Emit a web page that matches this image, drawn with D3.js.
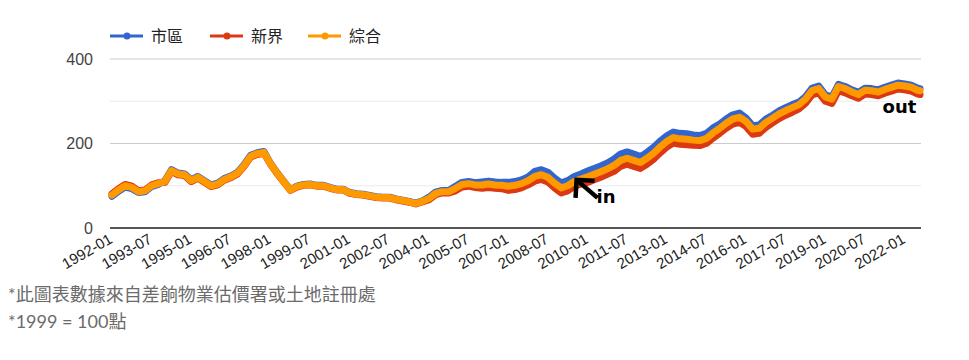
<!DOCTYPE html>
<html>
<head>
<meta charset="utf-8">
<script src="https://cdn.jsdelivr.net/npm/d3@7"></script>
<style>
  body { margin: 0; background: #fff; }
  svg { display: block; }
</style>
</head>
<body>
<svg id="chart" width="969" height="360"></svg>
<script>
// ---- data (1999 = 100) ----
const dates = [
  "1992-01","1992-04","1992-07","1992-10","1993-01","1993-04","1993-07","1993-10",
  "1994-01","1994-04","1994-07","1994-10","1995-01","1995-04","1995-07","1995-10",
  "1996-01","1996-04","1996-07","1996-10","1997-01","1997-04","1997-07","1997-10",
  "1998-01","1998-04","1998-07","1998-10","1999-01","1999-04","1999-07","1999-10",
  "2000-01","2000-04","2000-07","2000-10","2001-01","2001-04","2001-07","2001-10",
  "2002-01","2002-04","2002-07","2002-10","2003-01","2003-04","2003-07","2003-10",
  "2004-01","2004-04","2004-07","2004-10","2005-01","2005-04","2005-07","2005-10",
  "2006-01","2006-04","2006-07","2006-10","2007-01","2007-04","2007-07","2007-10",
  "2008-01","2008-04","2008-07","2008-10","2009-01","2009-04","2009-07","2009-10",
  "2010-01","2010-04","2010-07","2010-10","2011-01","2011-04","2011-07","2011-10",
  "2012-01","2012-04","2012-07","2012-10","2013-01","2013-04","2013-07","2013-10",
  "2014-01","2014-04","2014-07","2014-10","2015-01","2015-04","2015-07","2015-10",
  "2016-01","2016-04","2016-07","2016-10","2017-01","2017-04","2017-07","2017-10",
  "2018-01","2018-04","2018-07","2018-10","2019-01","2019-04","2019-07","2019-10",
  "2020-01","2020-04","2020-07","2020-10","2021-01","2021-04","2021-07","2021-10",
  "2022-01","2022-04","2022-07","2022-08"
];
const urban = [ // 市區
  75,87,97,93, 84,86,98,103, 112,138,130,128, 114,122,112,102,
  106,117,123,132, 150,172,178,181, 153,131,111,91, 99,103,104,101,
  101,96,92,92, 84,81,80,77, 74,73,73,69, 66,63,59,64,
  73,85,89,89, 99,108,110,107, 109,111,109,108, 108,110,114,121,
  134,138,132,118, 107,112,122,128, 135,141,147,154, 163,175,180,175,
  169,179,191,206, 218,227,224,223, 220,219,224,237, 246,258,268,272,
  260,242,244,258, 267,277,285,292, 298,311,331,336, 315,310,340,335,
  327,321,331,330, 327,333,338,343, 341,338,331,330
];
const newTerritories = [ // 新界
  81,93,103,99, 88,90,102,107, 108,134,126,124, 110,118,108,98,
  102,113,119,128, 146,168,174,177, 151,129,109,89, 97,101,102,99,
  99,94,90,90, 82,79,78,75, 72,71,71,67, 64,61,57,62,
  67,79,83,83, 88,97,99,96, 94,96,94,93, 89,91,95,102,
  111,115,109,95, 83,88,98,104, 108,114,120,127, 134,146,151,146,
  141,151,163,178, 192,201,198,197, 196,195,200,213, 224,236,246,250,
  240,222,224,238, 249,259,267,274, 282,295,315,320, 300,295,325,320,
  313,307,317,316, 313,319,324,329, 327,324,317,316
];
const overall = [ // 綜合
  78,90,100,96, 86,88,100,105, 110,136,128,126, 112,120,110,100,
  104,115,121,130, 148,170,176,179, 152,130,110,90, 98,102,103,100,
  100,95,91,91, 83,80,79,76, 73,72,72,68, 65,62,58,63,
  70,82,86,86, 94,103,105,102, 102,104,102,101, 99,101,105,112,
  122,126,120,106, 95,100,110,116, 121,127,133,140, 148,160,165,160,
  155,165,177,192, 205,214,211,210, 208,207,212,225, 236,248,258,262,
  252,234,236,250, 260,270,278,285, 292,305,325,330, 310,305,335,330,
  322,316,326,325, 322,328,333,338, 336,333,326,325
];
const seriesNames = ["市區", "新界", "綜合"];
const seriesColors = ["#3366cc", "#dc3912", "#ff9900"];
const xTickLabels = ["1992-01","1993-07","1995-01","1996-07","1998-01","1999-07","2001-01",
  "2002-07","2004-01","2005-07","2007-01","2008-07","2010-01","2011-07","2013-01","2014-07",
  "2016-01","2017-07","2019-01","2020-07","2022-01"];
const yTickLabels = [0, 200, 400];
const gridValues = [100, 200, 300, 400];
const footnotes = ["*此圖表數據來自差餉物業估價署或土地註冊處", "*1999 = 100點"];
const annotations = [
  { text: "in",  date: "2009-08", value: 114, arrow: true },
  { text: "out", date: "2021-03", value: 272, arrow: false }
];

// ---- drawing ----
const svg = d3.select("#chart");
const parse = d3.timeParse("%Y-%m");
const fmt = d3.timeFormat("%Y-%m");
const parsed = dates.map(parse);

const x = d3.scaleTime().domain([parsed[0], parsed[parsed.length - 1]]).range([112, 920]);
const y = d3.scaleLinear().domain([0, 400]).range([228, 59]);
const plotLeft = 110, plotRight = 921;

svg.append("rect").attr("width", 969).attr("height", 360).attr("fill", "#fff");

// gridlines
svg.append("g").selectAll("line").data(gridValues).join("line")
  .attr("x1", plotLeft).attr("x2", plotRight)
  .attr("y1", d => y(d)).attr("y2", d => y(d))
  .attr("stroke", d => d % 200 === 0 ? "#cccccc" : "#ebebeb")
  .attr("stroke-width", 1);

// y axis labels
const yAxis = d3.axisLeft(y).tickValues(yTickLabels).tickSize(0).tickPadding(17);
const gy = svg.append("g").attr("transform", `translate(${plotLeft},0)`).call(yAxis);
gy.select(".domain").remove();
gy.selectAll("text").attr("font-family", "Arial, 'Liberation Sans', sans-serif")
  .attr("font-size", 16).attr("fill", "#444");

// lines
const seriesData = [urban, newTerritories, overall];
const line = d3.line().x((d, i) => x(parsed[i])).y(d => y(d));
svg.append("g").selectAll("path").data(seriesData).join("path")
  .attr("d", d => line(d))
  .attr("fill", "none")
  .attr("stroke", (d, i) => seriesColors[i])
  .attr("stroke-width", 7)
  .attr("stroke-linejoin", "round")
  .attr("stroke-linecap", "round");

// baseline
svg.append("line").attr("x1", plotLeft).attr("x2", plotRight)
  .attr("y1", y(0)).attr("y2", y(0)).attr("stroke", "#555").attr("stroke-width", 2);

// x axis
const xAxis = d3.axisBottom(x).tickValues(xTickLabels.map(parse)).tickFormat(fmt).tickSize(0);
const gx = svg.append("g").attr("transform", `translate(0,${y(0)})`).call(xAxis);
gx.select(".domain").remove();
gx.selectAll("text")
  .attr("font-family", "Arial, 'Liberation Sans', sans-serif")
  .attr("font-size", 15).attr("fill", "#222")
  .attr("text-anchor", "end")
  .attr("dy", null).attr("y", null)
  .attr("transform", "translate(1,14) rotate(-30)");

// legend
const legend = svg.append("g").attr("transform", "translate(110,36)");
const lgX = [0, 100, 198];
seriesNames.forEach((name, i) => {
  const g = legend.append("g").attr("transform", `translate(${lgX[i]},0)`);
  g.append("line").attr("x1", 0).attr("x2", 33).attr("y1", 0).attr("y2", 0)
    .attr("stroke", seriesColors[i]).attr("stroke-width", 3);
  g.append("circle").attr("cx", 17).attr("cy", 0).attr("r", 3.5).attr("fill", seriesColors[i]);
  g.append("text").attr("x", 41).attr("y", 0).attr("dy", "0.35em")
    .attr("font-family", "'Noto Sans CJK TC', sans-serif").attr("font-size", 16)
    .attr("fill", "#222").text(name);
});

// annotations
annotations.forEach(a => {
  const ax = x(parse(a.date)), ay = y(a.value);
  if (a.arrow) {
    const g = svg.append("g").attr("stroke", "#000").attr("stroke-width", 4.5)
      .attr("stroke-linecap", "butt").attr("fill", "none");
    g.append("path").attr("d", `M${ax},${ay} L${ax + 21},${ay + 18}`);
    g.append("path").attr("d", `M${ax - 1},${ay + 18} L${ax},${ay} L${ax + 18},${ay + 1}`)
      .attr("stroke-linejoin", "miter");
    svg.append("text").attr("x", ax + 20).attr("y", ay + 23)
      .attr("font-family", "'DejaVu Sans', sans-serif").attr("font-weight", "bold")
      .attr("font-size", 18).attr("fill", "#000").text(a.text);
  } else {
    svg.append("text").attr("x", ax).attr("y", ay)
      .attr("font-family", "'DejaVu Sans', sans-serif").attr("font-weight", "bold")
      .attr("font-size", 18).attr("fill", "#000").text(a.text);
  }
});

// footnotes
svg.append("g").selectAll("text").data(footnotes).join("text")
  .attr("x", 8).attr("y", (d, i) => 301 + i * 27)
  .attr("font-family", "Lato, 'Noto Sans CJK TC', sans-serif")
  .attr("font-size", 18).attr("fill", "#6b6b6b")
  .text(d => d);
</script>
</body>
</html>
